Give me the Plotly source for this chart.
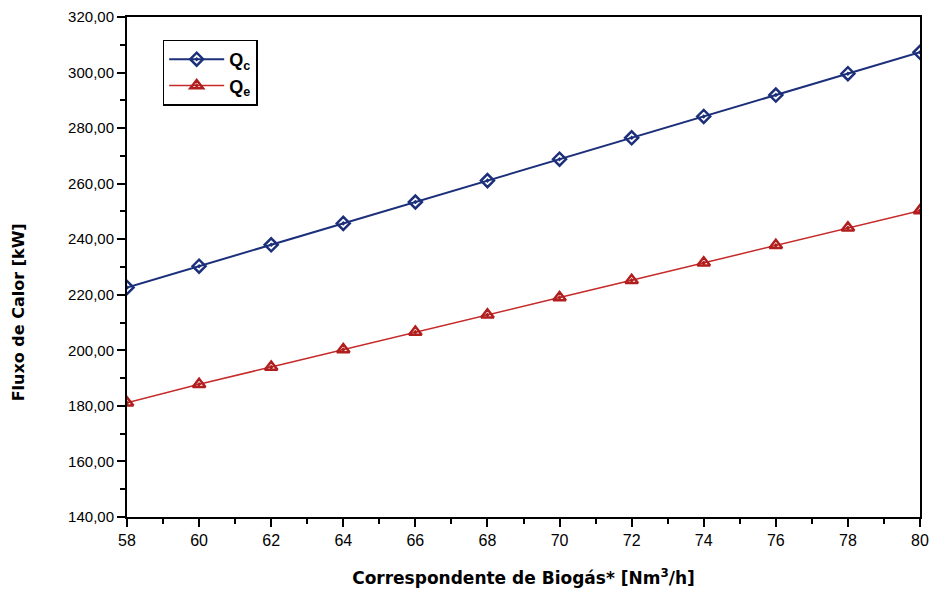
import plotly.graph_objects as go

biogas = [58, 60, 62, 64, 66, 68, 70, 72, 74, 76, 78, 80]
q_c = [222.6, 230.3, 238.0, 245.7, 253.4, 261.1, 268.8, 276.5, 284.2, 291.9, 299.6, 307.3]
q_e = [181.1, 187.8, 194.0, 200.3, 206.6, 212.8, 219.0, 225.2, 231.5, 237.8, 244.1, 250.3]

fig = go.Figure()
fig.add_trace(go.Scatter(
    x=biogas, y=q_c, mode="lines+markers", name="<b>Q<sub>c</sub></b>",
    line=dict(color="#1c2f7a", width=2),
    marker=dict(symbol="diamond-open-dot", size=10, color="#1c2f7a", line=dict(width=2.5, color="#1c2f7a")),
))
fig.add_trace(go.Scatter(
    x=biogas, y=q_e, mode="lines+markers", name="<b>Q<sub>e</sub></b>",
    line=dict(color="#c62a2a", width=1.5),
    marker=dict(symbol="triangle-up-open-dot", size=11, color="#b01e1e", line=dict(width=2.5, color="#b01e1e")),
))

fig.update_layout(
    width=932, height=594,
    margin=dict(l=127, r=12, t=17, b=77, autoexpand=False),
    paper_bgcolor="white", plot_bgcolor="white",
    separators=",.",
    font=dict(family="Liberation Sans, Arial, sans-serif", color="black"),
    showlegend=True,
    legend=dict(
        x=0.045, y=0.955, xanchor="left", yanchor="top",
        bordercolor="black", borderwidth=1.5, bgcolor="white",
        font=dict(size=18, family="Liberation Sans, Arial", color="black"),
        itemwidth=55, tracegroupgap=4,
    ),
    annotations=[dict(
        text="<b>Fluxo de Calor [kW]</b>", textangle=-90,
        xref="paper", yref="paper", x=-0.137, y=0.41,
        xanchor="center", yanchor="middle", showarrow=False,
        font=dict(size=16, family="DejaVu Sans, sans-serif", color="black"),
    )],
)
fig.update_xaxes(
    range=[58, 80], tickvals=biogas, ticktext=[str(v) for v in biogas],
    ticks="outside", ticklen=8, tickwidth=2, tickcolor="black",
    minor=dict(dtick=1, ticks="outside", ticklen=5, tickwidth=2, tickcolor="black"),
    showline=True, linecolor="black", linewidth=2, mirror=True,
    showgrid=False, zeroline=False, automargin=False,
    tickfont=dict(size=16),
    title=dict(text="<b>Correspondente de Biogás* [Nm<sup>3</sup>/h]</b>",
               font=dict(size=17, family="DejaVu Sans, sans-serif"), standoff=24),
)
fig.update_yaxes(
    range=[140, 320], dtick=20, tickformat=".2f",
    ticks="outside", ticklen=8, tickwidth=2, tickcolor="black",
    minor=dict(dtick=10, ticks="outside", ticklen=5, tickwidth=2, tickcolor="black"),
    showline=True, linecolor="black", linewidth=2, mirror=True,
    showgrid=False, zeroline=False, automargin=False,
    tickfont=dict(size=15),
)

fig.write_html("out.html")
